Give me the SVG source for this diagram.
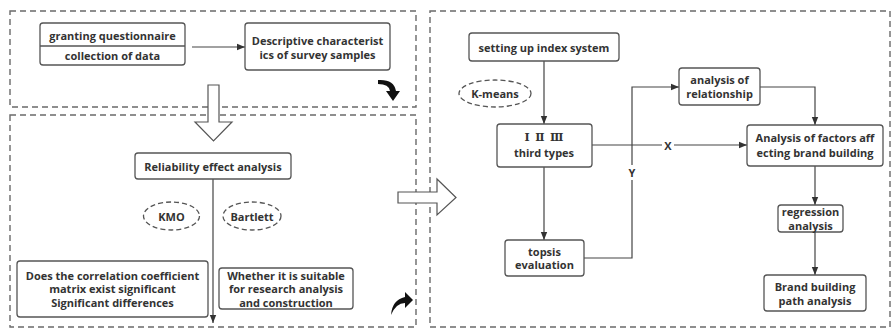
<svg xmlns="http://www.w3.org/2000/svg" width="893" height="329" viewBox="0 0 893 329">
<style>
.panel{fill:none;stroke:#6a6a6a;stroke-width:1.4;stroke-dasharray:6,4}
.box{fill:#fff;stroke:#555;stroke-width:1.3}
.ell{fill:#fff;stroke:#555;stroke-width:1.3;stroke-dasharray:5,3}
.t{font-family:"Open Sans","Liberation Sans",sans-serif;font-weight:bold;font-size:11px;fill:#333;text-anchor:middle;dominant-baseline:central}
.ln{fill:none;stroke:#444;stroke-width:1.2}
.hollow{fill:#fff;stroke:#555;stroke-width:1.2}
</style>
<defs>
<marker id="ah" viewBox="0 0 10 10" refX="10" refY="5" markerWidth="8" markerHeight="8" markerUnits="userSpaceOnUse" orient="auto">
<path d="M0,1 L10,5 L0,9 Z" fill="#333"/>
</marker>
</defs>
<rect width="893" height="329" fill="#fff"/>
<g id="panels">
<rect class="panel" x="10" y="11" width="406" height="96"/>
<rect class="panel" x="10" y="115" width="406" height="212"/>
<rect class="panel" x="430" y="11" width="460" height="316"/>
</g>
<g id="big-arrows">
<path class="hollow" d="M208,85 L219,85 L219,122 L232,122 L213.5,141 L195,122 L208,122 Z"/>
<path class="hollow" d="M398,192 L437,192 L437,179 L456,197.5 L437,215 L437,203 L398,203 Z"/>
</g>
<g id="icons">
<path d="M378,80 Q394,79 396,91 L400,91 L393,101 L386,91 L390,91 Q389,84 378,84 Z" fill="#111"/>
<path d="M391,315 Q392,300 405,297 L405,292 L413,300 L405,308 L405,303 Q396,303 391,315 Z" fill="#111"/>
</g>
<g id="connectors">
<line class="ln" x1="192" y1="47" x2="245" y2="47" marker-end="url(#ah)"/>
<line class="ln" x1="213" y1="179" x2="213" y2="323" marker-end="url(#ah)"/>
<line class="ln" x1="544" y1="61" x2="544" y2="124" marker-end="url(#ah)"/>
<line class="ln" x1="544" y1="167" x2="544" y2="240" marker-end="url(#ah)"/>
<line class="ln" x1="592" y1="145" x2="662" y2="145"/>
<line class="ln" x1="674" y1="145" x2="747" y2="145" marker-end="url(#ah)"/>
<path class="ln" d="M584,258 L632,258 L632,180"/>
<path class="ln" d="M632,165 L632,87 L679,87" marker-end="url(#ah)"/>
<path class="ln" d="M760,87 L815,87 L815,125" marker-end="url(#ah)"/>
<line class="ln" x1="815" y1="166" x2="815" y2="205" marker-end="url(#ah)"/>
<line class="ln" x1="815" y1="232" x2="815" y2="275" marker-end="url(#ah)"/>
<text class="t" x="668" y="145">X</text>
<text class="t" x="632" y="172">Y</text>
</g>
<g id="n-questionnaire">
<rect class="box" x="40" y="23" width="145" height="42" rx="3"/>
<line x1="40" y1="46" x2="185" y2="46" stroke="#555" stroke-width="1.3"/>
<text class="t" x="112.5" y="35">granting questionnaire</text>
<text class="t" x="112.5" y="55">collection of data</text>
</g>
<g id="n-descriptive">
<rect class="box" x="245" y="23" width="145" height="47" rx="3"/>
<text class="t" x="317.5" y="40">Descriptive characterist</text>
<text class="t" x="317.5" y="54">ics of survey samples</text>
</g>
<g id="n-reliability">
<rect class="box" x="135" y="153" width="156" height="26" rx="3"/>
<text class="t" x="213" y="166">Reliability effect analysis</text>
</g>
<g id="n-kmo">
<ellipse class="ell" cx="171.5" cy="216" rx="28" ry="14"/>
<text class="t" x="171.5" y="216">KMO</text>
</g>
<g id="n-bartlett">
<ellipse class="ell" cx="252" cy="216" rx="29" ry="14"/>
<text class="t" x="252" y="216">Bartlett</text>
</g>
<g id="n-correlation">
<rect class="box" x="17" y="261" width="191" height="56" rx="3"/>
<text class="t" x="112.5" y="275">Does the correlation coefficient</text>
<text class="t" x="112.5" y="288.5">matrix exist significant</text>
<text class="t" x="112.5" y="302">Significant differences</text>
</g>
<g id="n-suitable">
<rect class="box" x="219" y="268" width="134" height="41" rx="3"/>
<text class="t" x="286" y="275">Whether it is suitable</text>
<text class="t" x="286" y="288.5">for research analysis</text>
<text class="t" x="286" y="302">and construction</text>
</g>
<g id="n-index">
<rect class="box" x="469" y="33" width="150" height="28" rx="3"/>
<text class="t" x="544" y="47.5">setting up index system</text>
</g>
<g id="n-kmeans">
<ellipse class="ell" cx="495" cy="93.5" rx="36" ry="13.5"/>
<text class="t" x="495" y="93.5">K-means</text>
</g>
<g id="n-types">
<rect class="box" x="497" y="124" width="95" height="43" rx="3"/>
<text class="t" x="544" y="137" style="font-family:'Liberation Serif','DejaVu Serif',serif" xml:space="preserve">Ⅰ  Ⅱ  Ⅲ</text>
<text class="t" x="544" y="152">third types</text>
</g>
<g id="n-relationship">
<rect class="box" x="679" y="68" width="81" height="37" rx="3"/>
<text class="t" x="719.5" y="79.5">analysis of</text>
<text class="t" x="719.5" y="93.5">relationship</text>
</g>
<g id="n-factors">
<rect class="box" x="747" y="125" width="136" height="41" rx="3"/>
<text class="t" x="815" y="137.5">Analysis of factors aff</text>
<text class="t" x="815" y="152">ecting brand building</text>
</g>
<g id="n-topsis">
<rect class="box" x="505" y="240" width="79" height="36" rx="3"/>
<text class="t" x="544.5" y="251">topsis</text>
<text class="t" x="544.5" y="264.5">evaluation</text>
</g>
<g id="n-regression">
<rect class="box" x="778" y="205" width="65" height="27" rx="3"/>
<text class="t" x="810.5" y="211.5">regression</text>
<text class="t" x="810.5" y="225.5">analysis</text>
</g>
<g id="n-path">
<rect class="box" x="764" y="275" width="102" height="36" rx="3"/>
<text class="t" x="815" y="286">Brand building</text>
<text class="t" x="815" y="300">path analysis</text>
</g>
</svg>
